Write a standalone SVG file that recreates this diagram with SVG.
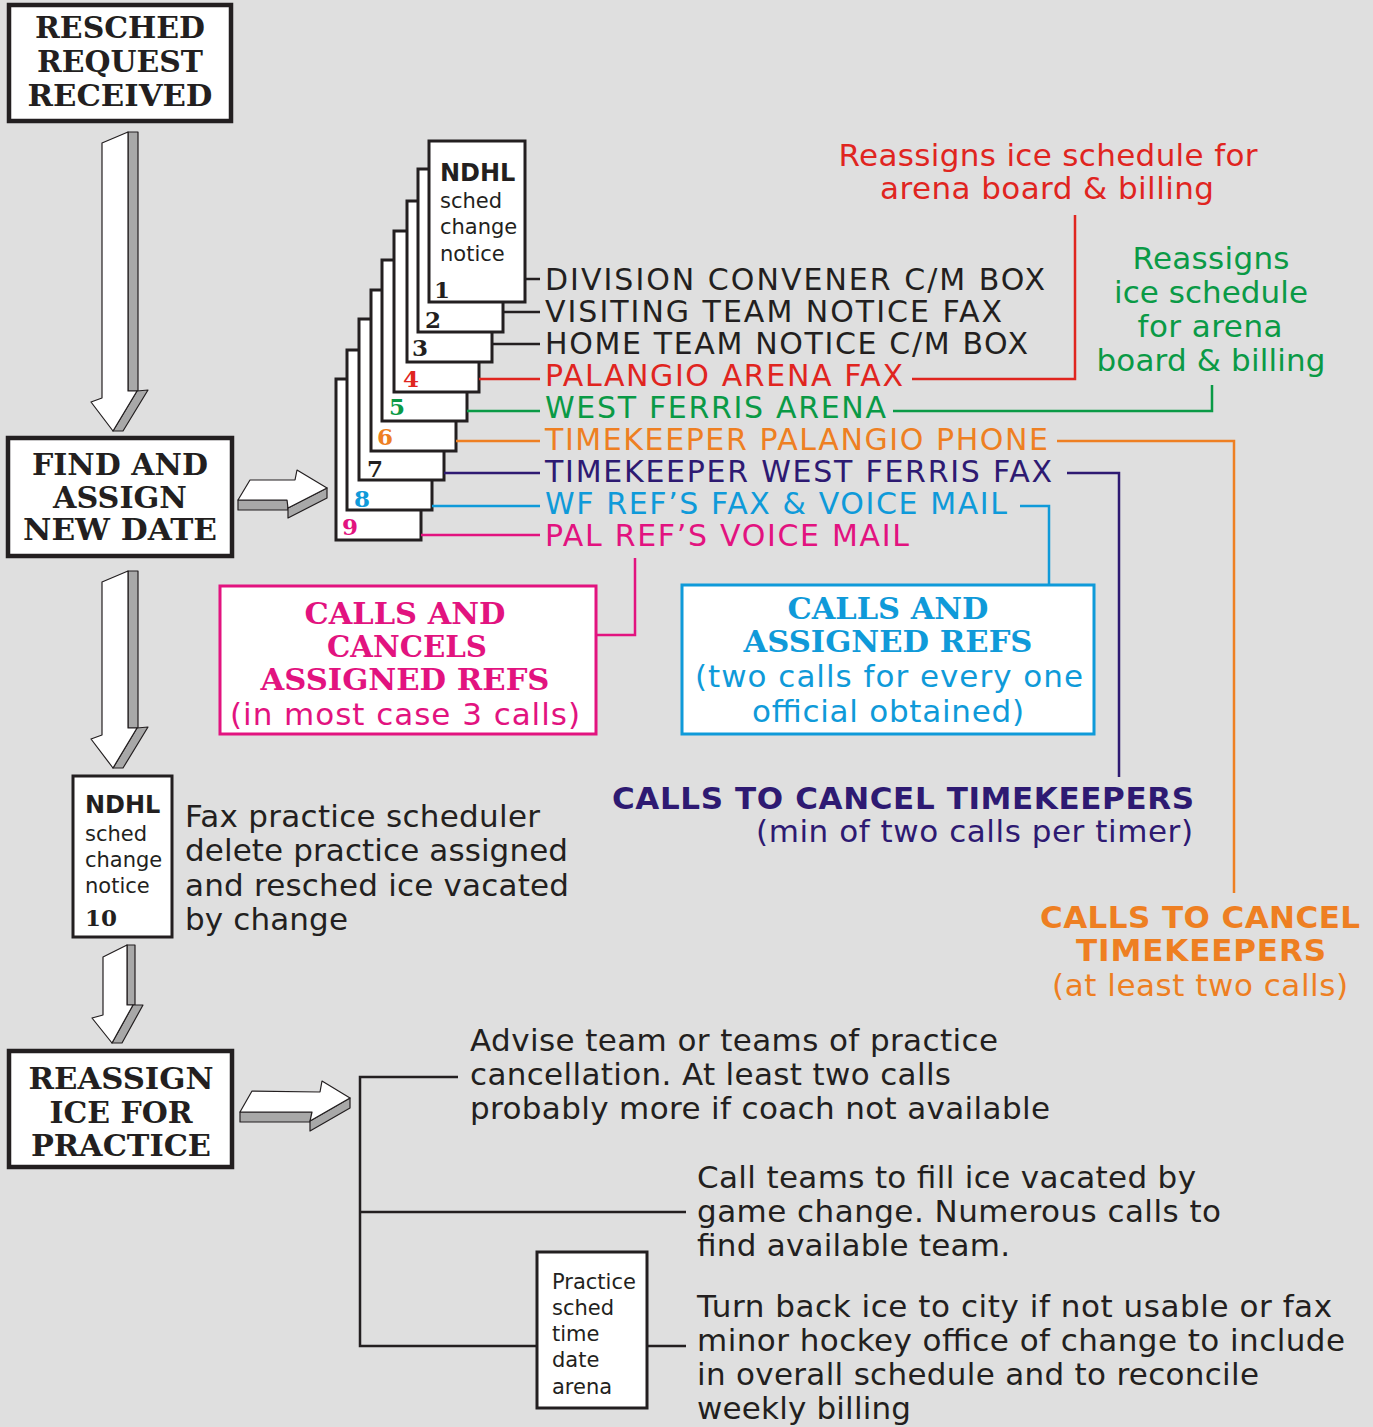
<svg xmlns="http://www.w3.org/2000/svg" width="1373" height="1427" viewBox="0 0 1373 1427">
<style>
.bg{fill:#dfdfdf}
.box{fill:#fff;stroke:#231f20;stroke-width:4.5}
.page{fill:#fff;stroke:#231f20;stroke-width:3}
.ser{font-family:"DejaVu Serif","Liberation Serif",serif;font-weight:bold;font-size:30px;text-anchor:middle}
.sans{font-family:"DejaVu Sans",Verdana,sans-serif;font-size:31px}
.lab{font-family:"DejaVu Sans",Verdana,sans-serif;font-size:30px}
.sansb{font-family:"DejaVu Sans",Verdana,sans-serif;font-size:31px;font-weight:bold}
.pg{font-family:"DejaVu Sans",sans-serif;font-size:21px;fill:#231f20}
.pgb{font-family:"DejaVu Sans",sans-serif;font-size:24px;font-weight:bold;fill:#231f20}
.num{font-family:"DejaVu Serif","Liberation Serif",serif;font-size:23px;font-weight:bold}
.mid{text-anchor:middle}
.k{fill:#231f20}.r{fill:#e0251f}.g{fill:#0a9a46}.o{fill:#ee7f22}.i{fill:#2e1a72}.b{fill:#0f9ad9}.m{fill:#e2137f}
.lk{stroke:#231f20}.lr{stroke:#e0251f}.lg{stroke:#0a9a46}.lo{stroke:#ee7f22}.li{stroke:#2e1a72}.lb{stroke:#0f9ad9}.lm{stroke:#e2137f}
.ln{fill:none;stroke-width:2.5}
.aw{fill:#fff;stroke:#231f20;stroke-width:1.2;stroke-linejoin:round}
.ag{fill:#a8a8a8;stroke:#231f20;stroke-width:1.2;stroke-linejoin:round}
</style>
<rect class="bg" x="0" y="0" width="1373" height="1427"/>

<g id="resched-request">
<rect class="box" x="9" y="5" width="222" height="116"/>
<text class="ser k" x="120" y="38" textLength="170" lengthAdjust="spacingAndGlyphs">RESCHED</text>
<text class="ser k" x="120" y="72" textLength="166" lengthAdjust="spacingAndGlyphs">REQUEST</text>
<text class="ser k" x="120" y="106" textLength="185" lengthAdjust="spacingAndGlyphs">RECEIVED</text>
</g>

<g id="arrow-down-1">
<path class="ag" d="M128,132 L138,132 L138,391 L128,391 Z"/>
<path class="ag" d="M137,391 L148,390 L123,431 L113,431 Z"/>
<path class="aw" d="M102,143 L128,132 L128,391 L137,391 L113,431 L91,402 L102,398 Z"/>
</g>

<g id="find-assign">
<rect class="box" x="8" y="438" width="224" height="118"/>
<text class="ser k" x="120" y="475" textLength="176" lengthAdjust="spacingAndGlyphs">FIND AND</text>
<text class="ser k" x="120" y="508" textLength="134" lengthAdjust="spacingAndGlyphs">ASSIGN</text>
<text class="ser k" x="120" y="540" textLength="194" lengthAdjust="spacingAndGlyphs">NEW DATE</text>
</g>

<g id="arrow-right-1">
<path class="ag" d="M238,500 L288,500 L288,510 L238,510 Z"/>
<path class="ag" d="M288,508 L327,488 L327,498 L288,518 Z"/>
<path class="aw" d="M238,500 L250,480 L295,480 L297,470 L327,488 L288,508 L287,500 Z"/>
</g>

<g id="notice-stack">
<rect class="page" x="336" y="379" width="85" height="161"/>
<rect class="page" x="347" y="350" width="85" height="160"/>
<rect class="page" x="359" y="319" width="85" height="161"/>
<rect class="page" x="371" y="290" width="85" height="161"/>
<rect class="page" x="382" y="260" width="85" height="161"/>
<rect class="page" x="394" y="231" width="85" height="161"/>
<rect class="page" x="407" y="201" width="85" height="161"/>
<rect class="page" x="418" y="169" width="85" height="163"/>
<rect class="page" x="429" y="141" width="96" height="161"/>
<text class="pgb" x="440" y="181">NDHL</text>
<text class="pg" x="440" y="208">sched</text>
<text class="pg" x="440" y="234">change</text>
<text class="pg" x="440" y="261">notice</text>
<text class="num k" x="434" y="298">1</text>
<text class="num k" x="425" y="328">2</text>
<text class="num k" x="412" y="356">3</text>
<text class="num r" x="403" y="387">4</text>
<text class="num g" x="389" y="415">5</text>
<text class="num o" x="377" y="445">6</text>
<text class="num k" x="367" y="477" font-weight="normal">7</text>
<text class="num b" x="354" y="507">8</text>
<text class="num m" x="342" y="535">9</text>
</g>

<g id="distribution-labels">
<text class="lab k" x="545" y="290" textLength="500" lengthAdjust="spacing">DIVISION CONVENER C/M BOX</text>
<text class="lab k" x="545" y="322" textLength="457" lengthAdjust="spacing">VISITING TEAM NOTICE FAX</text>
<text class="lab k" x="545" y="354" textLength="483" lengthAdjust="spacing">HOME TEAM NOTICE C/M BOX</text>
<text class="lab r" x="545" y="386" textLength="358" lengthAdjust="spacing">PALANGIO ARENA FAX</text>
<text class="lab g" x="545" y="418" textLength="341" lengthAdjust="spacing">WEST FERRIS ARENA</text>
<text class="lab o" x="545" y="450" textLength="503" lengthAdjust="spacing">TIMEKEEPER PALANGIO PHONE</text>
<text class="lab i" x="545" y="482" textLength="507" lengthAdjust="spacing">TIMEKEEPER WEST FERRIS FAX</text>
<text class="lab b" x="545" y="514" textLength="462" lengthAdjust="spacing">WF REF’S FAX &amp; VOICE MAIL</text>
<text class="lab m" x="545" y="546" textLength="364" lengthAdjust="spacing">PAL REF’S VOICE MAIL</text>
</g>

<g id="red-note">
<text class="sans r mid" x="1048" y="166" textLength="419" lengthAdjust="spacing">Reassigns ice schedule for</text>
<text class="sans r mid" x="1047" y="199" textLength="334" lengthAdjust="spacing">arena board &amp; billing</text>
</g>

<g id="green-note">
<text class="sans g mid" x="1211" y="269" textLength="157" lengthAdjust="spacing">Reassigns</text>
<text class="sans g mid" x="1211" y="303" textLength="194" lengthAdjust="spacing">ice schedule</text>
<text class="sans g mid" x="1210" y="337" textLength="145" lengthAdjust="spacing">for arena</text>
<text class="sans g mid" x="1211" y="371" textLength="229" lengthAdjust="spacing">board &amp; billing</text>
</g>

<g id="pal-refs-box">
<rect x="220" y="586" width="376" height="148" fill="#fff" stroke="#e2137f" stroke-width="3"/>
<text class="ser m" x="405" y="624" textLength="201" lengthAdjust="spacingAndGlyphs">CALLS AND</text>
<text class="ser m" x="407" y="657" textLength="160" lengthAdjust="spacingAndGlyphs">CANCELS</text>
<text class="ser m" x="405" y="690" textLength="289" lengthAdjust="spacingAndGlyphs">ASSIGNED REFS</text>
<text class="sans m mid" x="405" y="725" textLength="350" lengthAdjust="spacing">(in most case 3 calls)</text>
</g>

<g id="wf-refs-box">
<rect x="682" y="585" width="412" height="149" fill="#fff" stroke="#0f9ad9" stroke-width="3"/>
<text class="ser b" x="888" y="619" textLength="201" lengthAdjust="spacingAndGlyphs">CALLS AND</text>
<text class="ser b" x="888" y="652" textLength="289" lengthAdjust="spacingAndGlyphs">ASSIGNED REFS</text>
<text class="sans b mid" x="889" y="687" textLength="388" lengthAdjust="spacing">(two calls for every one</text>
<text class="sans b mid" x="888" y="722" textLength="272" lengthAdjust="spacing">official obtained)</text>
</g>

<g id="wf-timekeepers">
<text class="sansb i" x="612" y="809" textLength="582" lengthAdjust="spacing">CALLS TO CANCEL TIMEKEEPERS</text>
<text class="sans i" x="756" y="842" textLength="437" lengthAdjust="spacing">(min of two calls per timer)</text>
</g>

<g id="pal-timekeepers">
<text class="sansb o mid" x="1200" y="928" textLength="320" lengthAdjust="spacing">CALLS TO CANCEL</text>
<text class="sansb o mid" x="1201" y="961" textLength="250" lengthAdjust="spacing">TIMEKEEPERS</text>
<text class="sans o mid" x="1200" y="996" textLength="296" lengthAdjust="spacing">(at least two calls)</text>
</g>

<g id="arrow-down-2">
<path class="ag" d="M128,571 L138,571 L138,728 L128,728 Z"/>
<path class="ag" d="M137,728 L148,727 L123,768 L113,768 Z"/>
<path class="aw" d="M102,582 L128,571 L128,728 L137,728 L113,768 L91,739 L102,735 Z"/>
</g>

<g id="practice-notice">
<rect class="page" x="73" y="776" width="99" height="161"/>
<text class="pgb" x="85" y="813">NDHL</text>
<text class="pg" x="85" y="841">sched</text>
<text class="pg" x="85" y="867">change</text>
<text class="pg" x="85" y="893">notice</text>
<text class="num k" x="85" y="926">10</text>
</g>

<g id="fax-practice-note">
<text class="sans k" x="185" y="827" textLength="355" lengthAdjust="spacing">Fax practice scheduler</text>
<text class="sans k" x="185" y="861" textLength="383" lengthAdjust="spacing">delete practice assigned</text>
<text class="sans k" x="185" y="896" textLength="384" lengthAdjust="spacing">and resched ice vacated</text>
<text class="sans k" x="185" y="930" textLength="163" lengthAdjust="spacing">by change</text>
</g>

<g id="arrow-down-3">
<path class="ag" d="M127,945 L135,945 L135,1005 L127,1005 Z"/>
<path class="ag" d="M133,1005 L143,1005 L122,1043 L112,1043 Z"/>
<path class="aw" d="M103,957 L127,945 L127,1005 L133,1005 L112,1043 L92,1018 L103,1015 Z"/>
</g>

<g id="reassign-ice">
<rect class="box" x="9" y="1051" width="223" height="116"/>
<text class="ser k" x="121" y="1089" textLength="185" lengthAdjust="spacingAndGlyphs">REASSIGN</text>
<text class="ser k" x="121" y="1123" textLength="143" lengthAdjust="spacingAndGlyphs">ICE FOR</text>
<text class="ser k" x="121" y="1156" textLength="180" lengthAdjust="spacingAndGlyphs">PRACTICE</text>
</g>

<g id="arrow-right-2">
<path class="ag" d="M240,1112 L312,1112 L312,1122 L240,1122 Z"/>
<path class="ag" d="M310,1121 L350,1098 L350,1108 L310,1131 Z"/>
<path class="aw" d="M240,1112 L252,1091 L320,1092 L322,1081 L350,1098 L310,1121 L312,1112 Z"/>
</g>

<g id="advise-note">
<text class="sans k" x="470" y="1051" textLength="528" lengthAdjust="spacing">Advise team or teams of practice</text>
<text class="sans k" x="470" y="1085" textLength="481" lengthAdjust="spacing">cancellation. At least two calls</text>
<text class="sans k" x="470" y="1119" textLength="580" lengthAdjust="spacing">probably more if coach not available</text>
</g>

<g id="fill-ice-note">
<text class="sans k" x="697" y="1188" textLength="499" lengthAdjust="spacing">Call teams to fill ice vacated by</text>
<text class="sans k" x="697" y="1222" textLength="524" lengthAdjust="spacing">game change. Numerous calls to</text>
<text class="sans k" x="697" y="1256" textLength="313" lengthAdjust="spacing">find available team.</text>
</g>

<g id="practice-sched-box">
<rect class="page" x="537" y="1252" width="110" height="156"/>
<text class="pg" x="552" y="1289">Practice</text>
<text class="pg" x="552" y="1315">sched</text>
<text class="pg" x="552" y="1341">time</text>
<text class="pg" x="552" y="1367">date</text>
<text class="pg" x="552" y="1394">arena</text>
</g>

<g id="turn-back-note">
<text class="sans k" x="697" y="1317" textLength="635" lengthAdjust="spacing">Turn back ice to city if not usable or fax</text>
<text class="sans k" x="697" y="1351" textLength="648" lengthAdjust="spacing">minor hockey office of change to include</text>
<text class="sans k" x="697" y="1385" textLength="562" lengthAdjust="spacing">in overall schedule and to reconcile</text>
<text class="sans k" x="697" y="1419" textLength="214" lengthAdjust="spacing">weekly billing</text>
</g>

<g id="connectors" class="ln">
<path class="lk" d="M525,279 H540 M503,312 H540 M492,344 H540"/>
<path class="lr" d="M479,379 H540"/>
<path class="lg" d="M467,411 H540"/>
<path class="lo" d="M456,441 H540"/>
<path class="li" d="M444,473 H540"/>
<path class="lb" d="M432,506 H540"/>
<path class="lm" d="M421,535 H540"/>
<path class="lr" d="M912,379 H1075 V215"/>
<path class="lg" d="M893,411 H1212 V385"/>
<path class="lo" d="M1057,441 H1234 V893"/>
<path class="li" d="M1067,473 H1119 V777"/>
<path class="lb" d="M1020,506 H1049 V585"/>
<path class="lm" d="M635,558 V635 H597"/>
<path class="lk" d="M458,1077 H360 V1346 H537 M360,1212 H686 M647,1346 H686"/>
</g>
</svg>
